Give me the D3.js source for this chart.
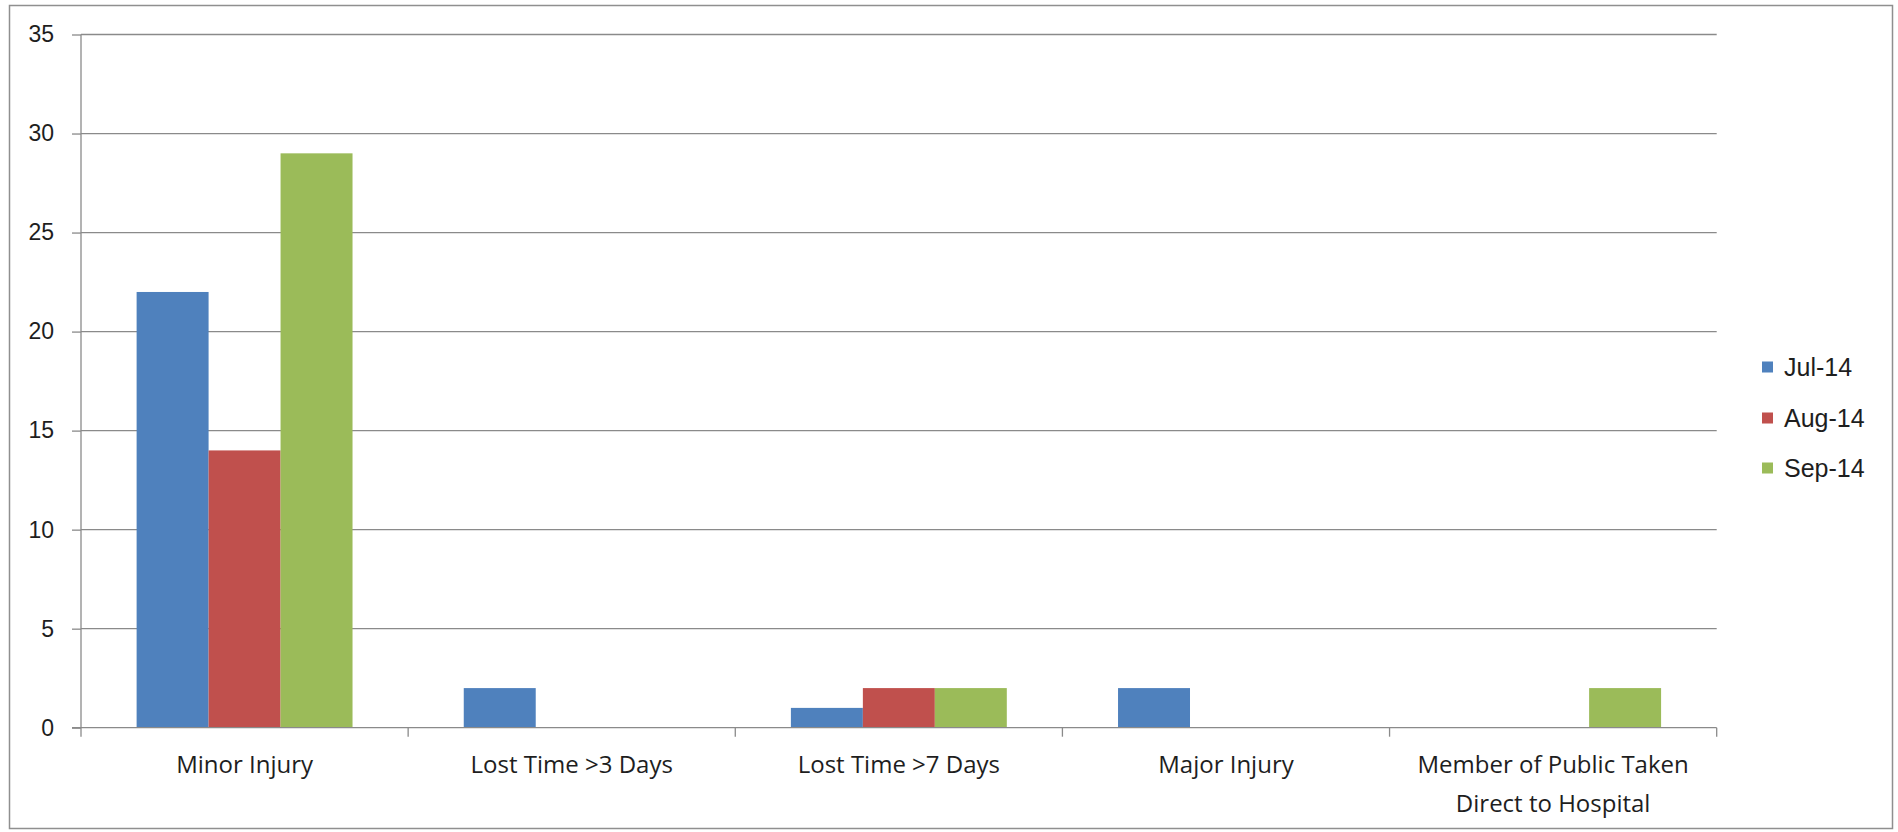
<!DOCTYPE html>
<html>
<head>
<meta charset="utf-8">
<script src="https://cdn.jsdelivr.net/npm/d3@7"></script>
<style>
  html, body { margin: 0; padding: 0; background: #ffffff; }
  svg { display: block; }
  text { font-family: "Liberation Sans", Arial, sans-serif; fill: #1e1e1e; }
</style>
</head>
<body>
<svg id="chart" width="1898" height="832"></svg>
<script>
// Injury counts by category, one series per month
const categories = [
  "Minor Injury",
  "Lost Time >3 Days",
  "Lost Time >7 Days",
  "Major Injury",
  "Member of Public Taken Direct to Hospital"
];
const seriesNames = ["Jul-14", "Aug-14", "Sep-14"];
const jul14 = [22, 2, 1, 2, 0];
const aug14 = [14, 0, 2, 0, 0];
const sep14 = [29, 0, 2, 0, 2];
const seriesColors = ["#4f81bd", "#c0504d", "#9bbb59"];
const yTicks = [0, 5, 10, 15, 20, 25, 30, 35];

const seriesValues = [jul14, aug14, sep14];

const svg = d3.select("#chart");

// chart frame
svg.append("rect")
  .attr("x", 9.5).attr("y", 5.5)
  .attr("width", 1883).attr("height", 823)
  .attr("fill", "#ffffff")
  .attr("stroke", "#8f8f8f")
  .attr("stroke-width", 1.5);

const plot = { left: 81, right: 1716.7, top: 34.5, bottom: 727.7 };

const y = d3.scaleLinear().domain([0, 35]).range([plot.bottom, plot.top]);
const x = d3.scaleBand().domain(categories)
  .range([plot.left, plot.right])
  .paddingInner(0.34).paddingOuter(0.17);
const xs = d3.scaleBand().domain(seriesNames).range([0, x.bandwidth()]).padding(0);

const gridColor = "#8a8a8a";

// horizontal gridlines
svg.append("g").selectAll("line")
  .data(yTicks.filter(t => t > 0))
  .join("line")
  .attr("x1", plot.left).attr("x2", plot.right)
  .attr("y1", d => y(d)).attr("y2", d => y(d))
  .attr("stroke", gridColor).attr("stroke-width", 1.3);

// bars
const barData = [];
seriesNames.forEach((s, si) => {
  categories.forEach((c, ci) => {
    barData.push({ series: s, cat: c, value: seriesValues[si][ci], color: seriesColors[si] });
  });
});
svg.append("g").selectAll("rect")
  .data(barData.filter(d => d.value > 0))
  .join("rect")
  .attr("x", d => x(d.cat) + xs(d.series))
  .attr("y", d => y(d.value))
  .attr("width", xs.bandwidth())
  .attr("height", d => y(0) - y(d.value))
  .attr("fill", d => d.color);

// y axis
const yAxis = d3.axisLeft(y).tickValues(yTicks).tickSize(9).tickPadding(18).tickFormat(d3.format("d"));
const gy = svg.append("g").attr("transform", `translate(${plot.left},0)`).call(yAxis);
gy.select(".domain").attr("stroke", gridColor).attr("stroke-width", 1.3).attr("d", `M0,${plot.top}V${plot.bottom}`);
gy.selectAll(".tick line").attr("stroke", gridColor).attr("stroke-width", 1.3);
gy.selectAll(".tick text")
  .style("font-family", '"Liberation Sans", Arial, sans-serif')
  .style("font-size", "23px").attr("fill", "#1e1e1e");

// x axis baseline
svg.append("line")
  .attr("x1", plot.left - 9).attr("x2", plot.right)
  .attr("y1", y(0)).attr("y2", y(0))
  .attr("stroke", gridColor).attr("stroke-width", 1.3);

// category boundary ticks
const half = (x.step() - x.bandwidth()) / 2;
const bounds = categories.map(c => x(c) - half).concat([x(categories[categories.length - 1]) + x.bandwidth() + half]);
svg.append("g").selectAll("line")
  .data(bounds)
  .join("line")
  .attr("x1", d => d).attr("x2", d => d)
  .attr("y1", y(0)).attr("y2", y(0) + 9)
  .attr("stroke", gridColor).attr("stroke-width", 1.3);

// category labels with word wrapping
const labelG = svg.append("g");
const maxW = x.step() * 0.92;
const lineH = 39.5;
categories.forEach(c => {
  const cx = x(c) + x.bandwidth() / 2;
  const t = labelG.append("text")
    .attr("x", cx)
    .attr("y", 772.5)
    .attr("text-anchor", "middle")
    .style("font-family", '"Open Sans", sans-serif')
    .style("font-size", "24px");
  const words = c.split(" ");
  let line = [];
  let tspan = t.append("tspan").attr("x", cx).attr("dy", 0);
  words.forEach(w => {
    line.push(w);
    tspan.text(line.join(" "));
    if (tspan.node().getComputedTextLength() > maxW && line.length > 1) {
      line.pop();
      tspan.text(line.join(" "));
      line = [w];
      tspan = t.append("tspan").attr("x", cx).attr("dy", lineH).text(w);
    }
  });
});

// legend
const legend = svg.append("g");
const legendY = [367, 418, 468];
seriesNames.forEach((s, i) => {
  legend.append("rect")
    .attr("x", 1762).attr("y", legendY[i] - 5.5)
    .attr("width", 11).attr("height", 11)
    .attr("fill", seriesColors[i]);
  legend.append("text")
    .attr("x", 1784).attr("y", legendY[i])
    .attr("dominant-baseline", "central")
    .style("font-size", "25px")
    .text(s);
});
</script>
</body>
</html>
